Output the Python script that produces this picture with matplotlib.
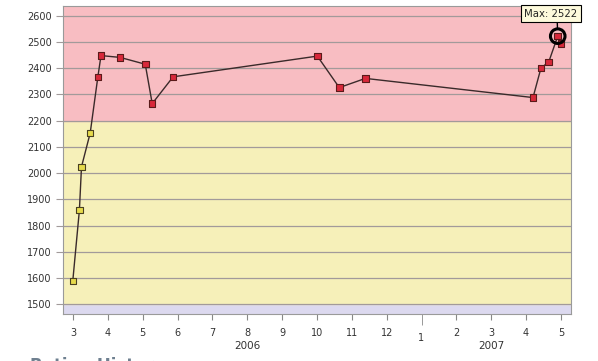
import matplotlib.pyplot as plt
import numpy as np

# months counted from Jan 2006 (13 = Jan 2007)
months = [2.99, 3.18, 3.24, 3.49, 3.71, 3.80, 4.35, 5.07, 5.27, 5.87,
          10.01, 10.64, 11.39, 16.20, 16.43, 16.65, 16.91, 17.01]
rating = [1589, 1859, 2024, 2153, 2367, 2448, 2441, 2415, 2265, 2367,
          2446, 2326, 2361, 2288, 2401, 2423, 2522, 2494]

tick_pos = [3, 4, 5, 6, 7, 8, 9, 10, 11, 12, 14, 15, 16, 17]
tick_lbl = ['3', '4', '5', '6', '7', '8', '9', '10', '11', '12', '2', '3', '4', '5']
years = [(8, '2006'), (15, '2007')]

fig = plt.figure(figsize=(5.98, 3.61), dpi=100, facecolor='white')
ax = fig.add_axes([0.1054, 0.1302, 0.8494, 0.8532])

ymin, ymax = 1463, 2637
xmin, xmax = 2.71, 17.29
ax.set_xlim(xmin, xmax)
ax.set_ylim(ymin, ymax)

# rating bands
ax.axhspan(ymin, 1500, color='#dcd9ef', zorder=0)
ax.axhspan(1500, 2200, color='#f6f0b9', zorder=0)
ax.axhspan(2200, ymax, color='#f8bdc2', zorder=0)

ax.set_yticks(np.arange(1500, 2601, 100))
ax.grid(axis='y', color='#a29a9a', linewidth=0.9, zorder=1)
ax.tick_params(axis='y', length=5, color='#a29a9a', labelsize=7, labelcolor='#333333', pad=3)

ax.set_xticks(tick_pos)
ax.set_xticklabels(tick_lbl)
ax.tick_params(axis='x', length=4, color='#888888', labelsize=7, labelcolor='#333333', pad=6)
ax.set_xticks([13], minor=True)
ax.set_xticklabels(['1'], minor=True)
ax.tick_params(axis='x', which='minor', length=8, color='#888888', labelsize=7,
               labelcolor='#333333', pad=6)

for xm, yr in years:
    ax.text(xm, -0.088, yr, transform=ax.get_xaxis_transform(), ha='center', va='top',
            fontsize=7.5, color='#333333')

for s in ax.spines.values():
    s.set_color('#9a9a9a')
    s.set_linewidth(0.8)

ax.plot(months, rating, color='#3a2a2a', linewidth=1, zorder=3)
face = ['#e6da4c' if r < 2200 else '#d8283a' for r in rating]
edge = ['#4a4020' if r < 2200 else '#5a1a1a' for r in rating]
ax.scatter(months, rating, marker='s', s=22, c=face, edgecolors=edge, linewidths=0.8, zorder=4)

# highlight maximum
imax = int(np.argmax(rating))
ax.scatter([months[imax]], [rating[imax]], s=110, facecolors='none', edgecolors='black',
           linewidths=2.2, zorder=5)
ax.annotate(f'Max: {rating[imax]}', xy=(months[imax], rating[imax]), xytext=(-5, 16),
            textcoords='offset points', ha='center', va='center', fontsize=7.3,
            color='#222222',
            bbox=dict(boxstyle='square,pad=0.35', fc='#fdfadc', ec='black', lw=0.8),
            arrowprops=dict(arrowstyle='-', color='black', lw=1, shrinkA=0, shrinkB=6,
                            relpos=(0.62, 0)),
            annotation_clip=False, zorder=6)

fig.text(0.05, 0.012, 'Rating History', fontsize=12, fontweight='bold', color='#6f8090',
         ha='left', va='top')

fig.savefig('out.png', dpi=100, facecolor='white')
